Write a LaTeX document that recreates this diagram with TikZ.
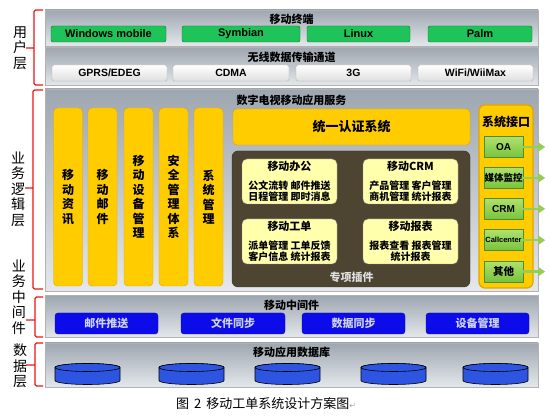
\documentclass[tikz,border=0pt]{standalone}
\usepackage{fontspec}
\setmainfont{Noto Sans CJK SC}
\newfontfamily\latinfont{Liberation Sans}
\newfontfamily\symfont{DejaVu Sans}
\usetikzlibrary{positioning, arrows.meta}

\definecolor{panelTop}{RGB}{158,166,176}
\definecolor{panelBot}{RGB}{228,232,236}
\definecolor{termGreen}{RGB}{30,196,90}
\definecolor{termDark}{RGB}{20,110,50}
\definecolor{colYellow}{RGB}{255,204,0}
\definecolor{colEdge}{RGB}{225,165,0}
\definecolor{plugDark}{RGB}{78,68,50}
\definecolor{plugLight}{RGB}{255,255,172}
\definecolor{ifTop}{RGB}{175,225,110}
\definecolor{ifBot}{RGB}{120,195,60}
\definecolor{ifEdge}{RGB}{80,140,40}
\definecolor{arrowGreen}{RGB}{150,205,85}
\definecolor{midBlue}{RGB}{12,12,235}
\definecolor{midEdge}{RGB}{10,10,120}
\definecolor{midText}{RGB}{205,210,235}
\definecolor{dbBlue}{RGB}{45,85,225}
\definecolor{braceRed}{RGB}{235,20,20}

\tikzset{panel/.style = {draw=gray!60, top color=panelTop, bottom color=panelBot, minimum width=493, inner sep=0pt}}
\tikzset{paneltitle/.style = {font=\bfseries\fontsize{11}{13}\selectfont}}
\tikzset{termbtn/.style = {draw=termDark, fill=termGreen, rounded corners=2, minimum height=16, inner sep=0pt, font=\latinfont\bfseries\fontsize{11}{13}\selectfont}}
\tikzset{netbtn/.style = {draw=gray!60, top color=white, bottom color=gray!25, rounded corners=2, minimum height=16, inner sep=0pt, font=\latinfont\bfseries\fontsize{10.5}{12}\selectfont}}
\tikzset{column/.style = {draw=colEdge, fill=colYellow, rounded corners=4, minimum width=29, minimum height=178, inner sep=0pt, align=center, font=\bfseries\fontsize{12}{14.5}\selectfont}}
\tikzset{plugin/.style = {draw=plugDark!60, fill=plugLight, rounded corners=5, minimum width=95, minimum height=45, inner sep=0pt, align=center, font=\bfseries\fontsize{10}{11.5}\selectfont}}
\tikzset{ifbtn/.style = {draw=ifEdge, top color=ifTop, bottom color=ifBot, minimum width=39, minimum height=21, inner sep=0pt}}
\tikzset{ifarrow/.style = {-{Triangle[length=7pt, width=9pt]}, line width=2.5pt, draw=arrowGreen}}
\tikzset{midbtn/.style = {draw=midEdge, fill=midBlue, rounded corners=3, minimum height=21, inner sep=0pt, text=midText, font=\bfseries\fontsize{11}{13}\selectfont}}
\tikzset{dbshape/.style = {draw=black, fill=dbBlue, line width=0.6pt}}
\tikzset{layer/.style = {align=center, font=\fontsize{14}{15.5}\selectfont}}
\tikzset{brace/.style = {draw=braceRed, line width=1.3pt, rounded corners=1.5}}

\begin{document}
\begin{tikzpicture}[x=1pt, y=-1pt, >=latex]
  \useasboundingbox (0,0) rectangle (550,419);

  % user layer
  \node [panel, minimum height=36] (terminal) at (291.5,28) {};
  \node [paneltitle] (terminalT) at (291.5,19) {移动终端};
  \node [termbtn, minimum width=115] (winmobile) at (108.5,34) {Windows mobile};
  \node [termbtn, minimum width=118] (symbian) at (241,34) {Symbian};
  \node [termbtn, minimum width=103] (linux) at (358.5,34) {Linux};
  \node [termbtn, minimum width=104] (palm) at (480,34) {Palm};

  \node [panel, minimum height=38] (wireless) at (291.5,66.5) {};
  \node [paneltitle] (wirelessT) at (291.5,57.5) {无线数据传输通道};
  \node [netbtn, minimum width=115] (gprs) at (109.5,73) {GPRS/EDEG};
  \node [netbtn, minimum width=116] (cdma) at (231,73) {CDMA};
  \node [netbtn, minimum width=115] (threeg) at (353.5,73) {3G};
  \node [netbtn, minimum width=115] (wifi) at (475.5,73) {WiFi/WiiMax};

  % business logic layer
  \node [panel, minimum height=202] (service) at (291.5,190) {};
  \node [paneltitle] (serviceT) at (291.5,100) {数字电视移动应用服务};
  \node [column] (news) at (68,197) {移\\动\\资\\讯};
  \node [column] (mail) at (102.5,197) {移\\动\\邮\\件};
  \node [column] (device) at (138.5,197) {移\\动\\设\\备\\管\\理};
  \node [column] (security) at (173.5,197) {安\\全\\管\\理\\体\\系};
  \node [column] (sysmgr) at (208.5,197) {系\\统\\管\\理};

  \node [column, minimum width=237, minimum height=36, font=\bfseries\fontsize{13}{15}\selectfont] (auth) at (351.5,127) {统一认证系统};

  \node [fill=plugDark, draw=plugDark!70!black, rounded corners=6, minimum width=238, minimum height=136] (plugins) at (351,219) {};
  \node [plugin] (office) at (289.5,181.5) {{\fontsize{11}{13}\selectfont 移动办公}\\[7pt]公文流转 邮件推送\\日程管理 即时消息};
  \node [plugin] (crm) at (410.5,181.5) {{\fontsize{11}{13}\selectfont 移动CRM}\\[7pt]产品管理 客户管理\\商机管理 统计报表};
  \node [plugin] (workorder) at (289.5,241.5) {{\fontsize{11}{13}\selectfont 移动工单}\\[7pt]派单管理 工单反馈\\客户信息 统计报表};
  \node [plugin] (report) at (410.5,241.5) {{\fontsize{11}{13}\selectfont 移动报表}\\[7pt]报表查看 报表管理\\统计报表};
  \node [text=gray!25, font=\bfseries\fontsize{11}{13}\selectfont] (pluginsT) at (351.5,277) {专项插件};

  \node [fill=colYellow, draw=colEdge, line width=1.2pt, rounded corners=6, minimum width=54, minimum height=183] (iface) at (506,196.5) {};
  \node [font=\bfseries\fontsize{12}{14}\selectfont] (ifaceT) at (506,122) {系统接口};
  \node [ifbtn, font=\latinfont\bfseries\fontsize{10}{12}\selectfont] (oa) at (503.5,147) {OA};
  \node [ifbtn, below=9.5pt of oa, font=\bfseries\fontsize{9.5}{11}\selectfont] (media) {媒体监控};
  \node [ifbtn, below=9.5pt of media, font=\latinfont\bfseries\fontsize{10}{12}\selectfont] (ifcrm) {CRM};
  \node [ifbtn, below=10pt of ifcrm, font=\latinfont\bfseries\fontsize{7.5}{9}\selectfont] (callcenter) {Callcenter};
  \node [ifbtn, below=10pt of callcenter, font=\bfseries\fontsize{10.5}{12}\selectfont] (other) {其他};

  \coordinate [right=22pt of oa] (oaTip);
  \coordinate [right=22pt of media] (mediaTip);
  \coordinate [right=22pt of ifcrm] (ifcrmTip);
  \coordinate [right=22pt of callcenter] (callcenterTip);
  \coordinate [right=22pt of other] (otherTip);
  \draw [ifarrow] (oa) -- (oaTip);
  \draw [ifarrow] (media) -- (mediaTip);
  \draw [ifarrow] (ifcrm) -- (ifcrmTip);
  \draw [ifarrow] (callcenter) -- (callcenterTip);
  \draw [ifarrow] (other) -- (otherTip);

  % middleware layer
  \node [panel, minimum height=42] (middleware) at (291.5,316.5) {};
  \node [paneltitle] (middlewareT) at (291.5,305) {移动中间件};
  \node [midbtn, minimum width=103] (push) at (106.5,323.5) {邮件推送};
  \node [midbtn, minimum width=104] (filesync) at (233,323.5) {文件同步};
  \node [midbtn, minimum width=103] (datasync) at (353.5,323.5) {数据同步};
  \node [midbtn, minimum width=103] (devmgr) at (477.5,323.5) {设备管理};

  % data layer
  \node [panel, minimum height=44] (storage) at (291.5,365) {};
  \node [paneltitle] (storageT) at (291.5,352.5) {移动应用数据库};
  \foreach \cx in {87.5,191.5,287.5,393.5,495.5} {
    \filldraw [dbshape] (\cx-32.5,367.5) -- (\cx-32.5,380.5) arc [start angle=180, end angle=0, x radius=32.5, y radius=4] -- (\cx+32.5,367.5) arc [start angle=0, end angle=-180, x radius=32.5, y radius=4] -- cycle;
    \filldraw [dbshape] (\cx,367.5) ellipse [x radius=32.5, y radius=4];
  }

  % layer labels
  \node [layer] (userL) at (20,48) {用\\户\\层};
  \node [layer] (logicL) at (18,189) {业\\务\\逻\\辑\\层};
  \node [layer] (midL) at (19,297) {业\\务\\中\\间\\件};
  \node [layer] (dataL) at (20,366) {数\\据\\层};

  \draw [brace] (43,10) -- (34,10) -- (34,85) -- (43,85) (34,48) -- (26,48);
  \draw [brace] (43,90) -- (33,90) -- (33,289) -- (43,289) (33,188) -- (25,188);
  \draw [brace] (43,297) -- (35,297) -- (35,337) -- (43,337) (35,320) -- (26,320);
  \draw [brace] (43,343) -- (35,343) -- (35,386) -- (43,386) (35,365) -- (26,365);

  \node [font=\fontsize{13}{15}\selectfont] (caption) at (266,404) {图\hspace{5pt}2\hspace{5pt}移动工单系统设计方案图{\symfont\fontsize{8}{10}\selectfont\color{gray!70}↵}};
\end{tikzpicture}
\end{document}
